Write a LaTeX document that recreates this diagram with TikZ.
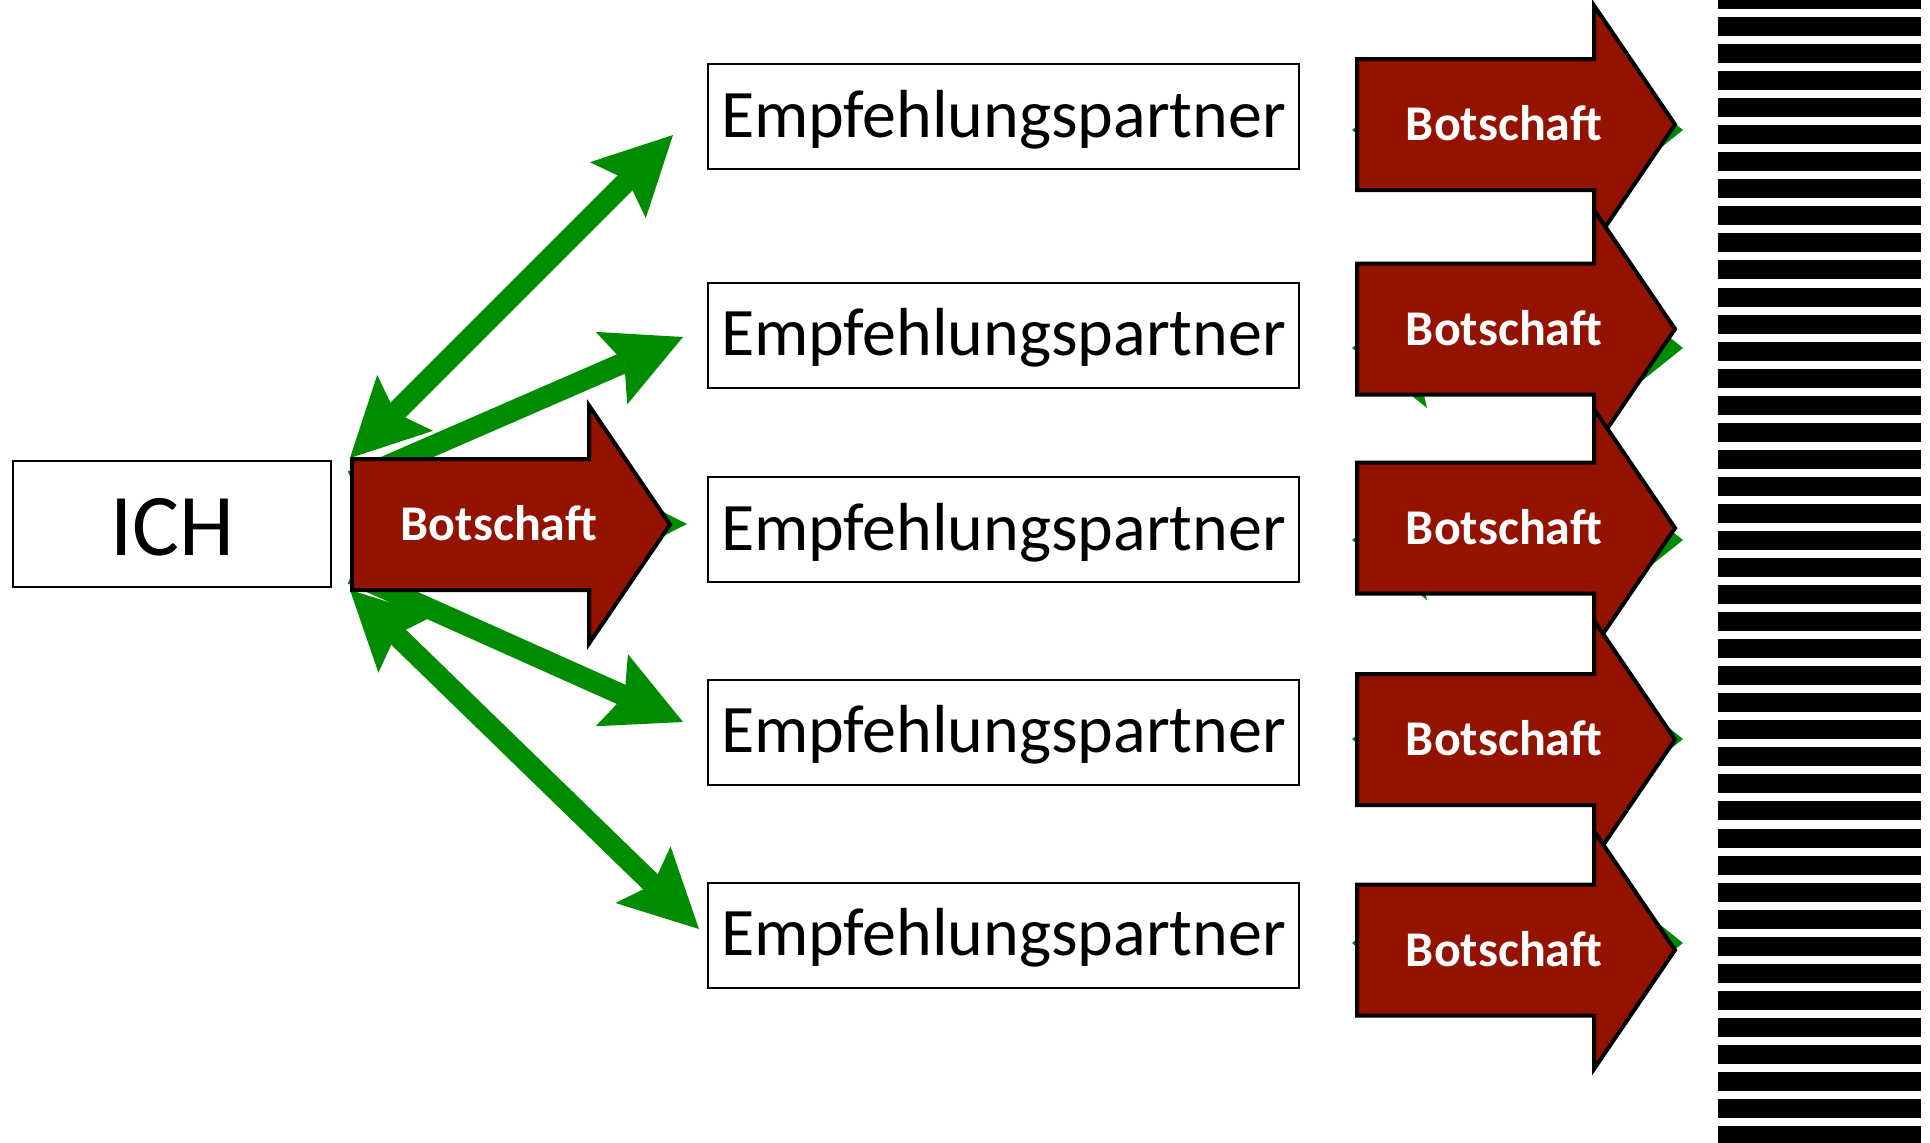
\documentclass[tikz,border=0pt]{standalone}
\usepackage{fontspec}
\setmainfont{Carlito}
\usetikzlibrary{arrows.meta}
\tikzset{>=Stealth}
\definecolor{botschaftred}{HTML}{931200}
\definecolor{partnergreen}{HTML}{008C00}

\tikzset{
  ichbox/.style={draw, line width=1pt, minimum width=159pt, minimum height=63pt, inner sep=0pt,
    text height=36pt, text depth=5pt, font=\fontsize{44}{52}\selectfont},
  partnerbox/.style={draw, line width=1pt, minimum width=295.5pt, minimum height=52.5pt, inner sep=0pt,
    text height=25.5pt, text depth=5pt, font=\fontsize{34}{40}\selectfont},
  greenline/.style={draw=partnergreen, line width=10.5pt},
  greentip/.tip={Stealth[length=39pt, width=39.5pt, inset=7pt, line width=0pt]},
  widetip/.tip={Stealth[length=37.5pt, width=60pt, inset=7pt, line width=0pt]},
  botschaftshape/.style={fill=botschaftred, draw=black, line width=2pt, line join=miter},
  botschafttext/.style={text=white, inner sep=0pt, text height=16pt, text depth=0pt,
    font=\bfseries\fontsize{25}{30}\selectfont},
  pics/botschaft/.style={code={
    \draw[botschaftshape] (0,-65.5) -- (237,-65.5) -- (237,-119) -- (318,0)
      -- (237,119) -- (237,65.5) -- (0,65.5) -- cycle;
    \node[botschafttext] (-label) at (147,0) {Botschaft};
  }}
}

\begin{document}
\begin{tikzpicture}[x=0.5pt, y=-0.5pt]
  \useasboundingbox (0,0) rectangle (1930,1142);

  % sender and partners
  \node[ichbox] (ich) at (172,524) {ICH};
  \foreach \y [count=\i] in {116.5,335,529.5,732,935}
    \node[partnerbox] (p\i) at (1003.5,\y) {Empfehlungspartner};

  % ends of the green arrows
  \coordinate (ich-top) at (350,458);
  \coordinate (ich-mid-a) at (352,481);
  \coordinate (ich-mid) at (352,524);
  \coordinate (ich-mid-b) at (352,574);
  \coordinate (ich-bottom) at (350,590);
  \coordinate (to-p1) at (673,135);
  \coordinate (to-p2) at (683,337);
  \coordinate (to-p3) at (687,524);
  \coordinate (to-p4) at (683,722);
  \coordinate (to-p5) at (699,929);

  \draw[greenline, greentip-greentip] (ich-top) -- (to-p1);
  \draw[greenline, -greentip] (ich-mid-a) -- (to-p2);
  \draw[greenline, -greentip] (ich-mid) -- (to-p3);
  \draw[greenline, -greentip] (ich-mid-b) -- (to-p4);
  \draw[greenline, greentip-greentip] (ich-bottom) -- (to-p5);

  % green arrows behind the right messages
  \foreach \y [count=\i] in {130,348,540,739,943} {
    \coordinate (from-p\i) at (1352,\y);
    \coordinate (to-wall\i) at (1683,\y);
    \draw[greenline, widetip-widetip] (from-p\i) -- (to-wall\i);
  }

  % messages
  \pic (bich) at (352,524.5) {botschaft};
  \foreach \y [count=\i] in {124.5,329,528,739.5,950}
    \pic (b\i) at (1357,\y) {botschaft};

  % wall
  \foreach \k in {-1,...,41}
    \fill (1718,17+27.05*\k) rectangle ++(203,19);
\end{tikzpicture}
\end{document}
